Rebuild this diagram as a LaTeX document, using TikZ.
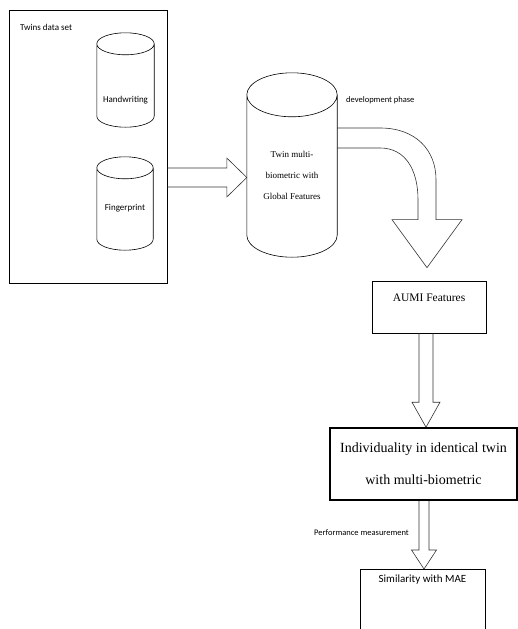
\documentclass[tikz,border=0pt]{standalone}
\usepackage{fontspec}
\setmainfont{Liberation Serif}
\newfontfamily\calibri{Carlito}
\usetikzlibrary{calc}

% right-pointing block arrow: start, tip, half shaft, half head, head length
\newcommand{\rblockarrow}[5]{%
  \draw[blockarrow] ($(#1)+(0,-#3)$) -- ($(#2)+(-#5,-#3)$) -- ($(#2)+(-#5,-#4)$) -- (#2)
    -- ($(#2)+(-#5,#4)$) -- ($(#2)+(-#5,#3)$) -- ($(#1)+(0,#3)$);}
% downward block arrow: start, tip, half shaft, half head, head length
\newcommand{\dblockarrow}[5]{%
  \draw[blockarrow] ($(#1)+(-#3,0)$) -- ($(#2)+(-#3,-#5)$) -- ($(#2)+(-#4,-#5)$) -- (#2)
    -- ($(#2)+(#4,-#5)$) -- ($(#2)+(#3,-#5)$) -- ($(#1)+(#3,0)$);}
% drum outline round a node: node name, cap radius in pt
\newcommand{\drum}[2]{%
  \draw[storeline] let \p1=(#1.north west), \p2=(#1.south east), \n1={(\x2-\x1)/2} in
    (\x1,\y1-#2pt) -- (\x1,\y2+#2pt)
    arc[start angle=180, end angle=360, x radius={\n1*1pt}, y radius=#2pt]
    -- (\x2,\y1-#2pt)
    arc[start angle=0, end angle=180, x radius={\n1*1pt}, y radius=#2pt]
    arc[start angle=180, end angle=360, x radius={\n1*1pt}, y radius=#2pt];}

\begin{document}
\begin{tikzpicture}[x=1pt, y=-1pt,
    store/.style={rectangle, inner sep=0pt},
    storeline/.style={line width=0.6pt},
    blockarrow/.style={draw=black!80, line width=0.6pt, line join=miter},
    note/.style={font=\calibri\fontsize{8.5}{10}\selectfont, inner sep=0pt},
    stagebox/.style={draw, rectangle, line width=0.7pt, inner sep=0pt}]
    \clip (0,0) rectangle (518,629);

    % Data set panel with its two stores
    \node (ds) [draw, rectangle, line width=0.6pt, minimum width=158pt, minimum height=273pt] at (88,146.5) {};
    \node (dslabel) [note, font=\calibri\fontsize{9}{10}\selectfont, anchor=west] at (20,27) {Twins data set};
    \node (hw) [store, minimum width=57pt, minimum height=94pt,
        label={[font=\calibri\fontsize{9}{10}\selectfont, yshift=-20pt]center:Handwriting}] at (125.5,80) {};
    \node (fp) [store, minimum width=56pt, minimum height=93pt,
        label={[font=\calibri\fontsize{9}{10}\selectfont, yshift=-4.5pt]center:Fingerprint}] at (125,203.5) {};
    \drum{hw}{11}
    \drum{fp}{11}

    % Merged store
    \node (tmb) [store, minimum width=90pt, minimum height=184pt,
        label={[font=\fontsize{9}{21}\selectfont, align=center, yshift=-10pt]center:Twin multi-\\biometric with\\Global Features}] at (292,165) {};
    \drum{tmb}{22}
    \node (devlabel) [note, anchor=west] at (346,100) {development phase};

    % Processing stages
    \node (aumi) [stagebox, minimum width=114pt, minimum height=52pt, text height=8pt, text depth=20pt,
        font=\fontsize{11.5}{13}\selectfont] at (429,307) {AUMI Features};
    \node (indiv) [stagebox, line width=1.6pt, minimum width=187pt, minimum height=72pt, align=center,
        font=\fontsize{14}{32}\selectfont] at (423.5,464) {Individuality in identical twin\\with multi-biometric};
    \node (perflabel) [note, anchor=east] at (409,533) {Performance measurement};
    \node (sim) [stagebox, anchor=north, minimum width=125pt, minimum height=80pt, text height=8pt, text depth=62pt,
        font=\calibri\fontsize{11}{13}\selectfont] at (422.5,569) {Similarity with MAE};

    % Connectors
    \coordinate (a1) at ([yshift=-31pt]ds.east);
    \coordinate (a2) at (a1 -| tmb.west);
    \rblockarrow{a1}{a2}{9.5}{19.5}{20}

    \coordinate (c1) at ([yshift=27pt]tmb.east);
    \coordinate (c2) at ([xshift=-2pt, yshift=13pt]aumi.north);
    \draw[blockarrow] ($(c1)+(0,-10)$) -- ($(c1)+(43,-10)$)
        .. controls ($(c1)+(78,-10)$) and ($(c2)+(9,-118)$) .. ($(c2)+(9,-88)$)
        -- ($(c2)+(9,-48)$) -- ($(c2)+(35,-48)$) -- (c2) -- ($(c2)+(-35,-48)$) -- ($(c2)+(-9,-48)$)
        -- ($(c2)+(-9,-68)$) .. controls ($(c2)+(-9,-98)$) and ($(c1)+(68,10)$) .. ($(c1)+(43,10)$)
        -- ($(c1)+(0,10)$);

    \coordinate (b1) at ([xshift=-3pt]aumi.south);
    \coordinate (b2) at (b1 |- indiv.north);
    \dblockarrow{b1}{b2}{7}{14}{25}

    \coordinate (d1) at ([xshift=0.5pt]indiv.south);
    \coordinate (d2) at (d1 |- sim.north);
    \dblockarrow{d1}{d2}{5}{12.5}{19}
\end{tikzpicture}
\end{document}
